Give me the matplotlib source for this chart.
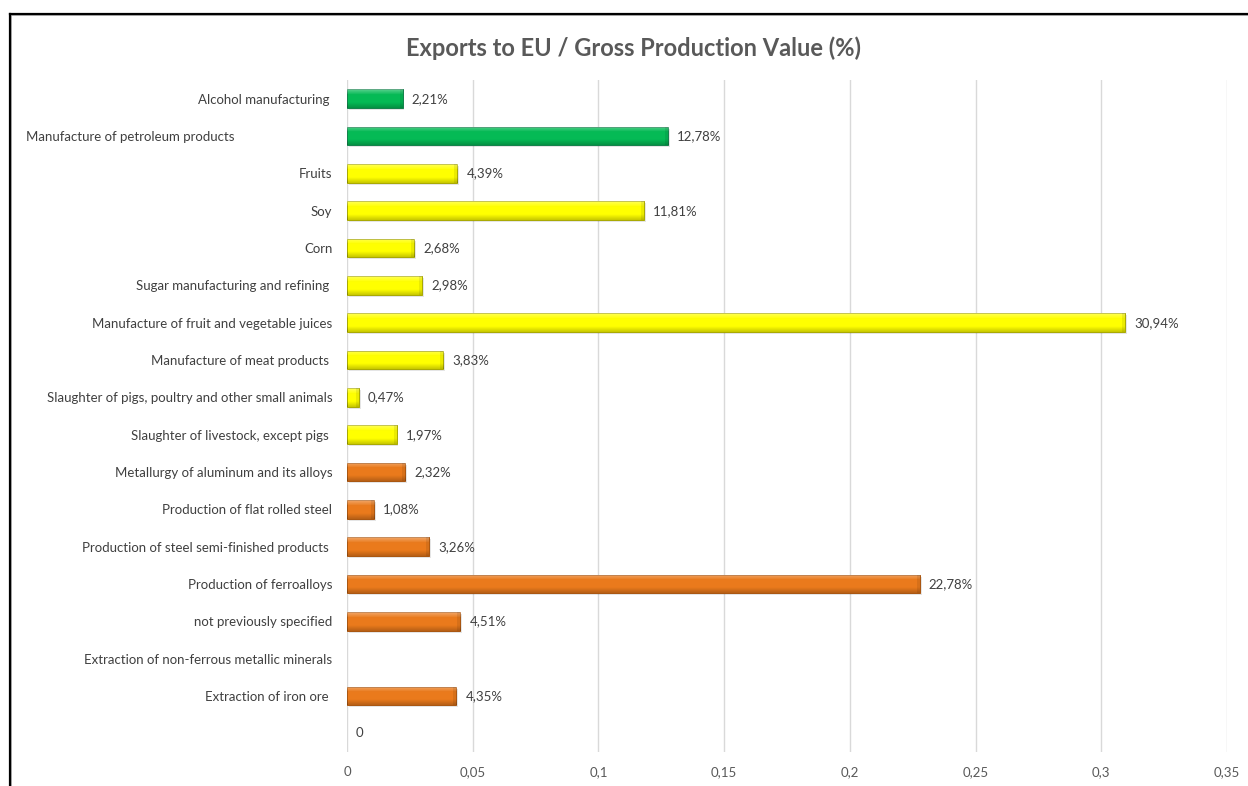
import numpy as np
import matplotlib
matplotlib.use("Agg")
import matplotlib.pyplot as plt
from matplotlib.lines import Line2D
from matplotlib.ticker import FuncFormatter

plt.rcParams['font.family'] = ['Lato', 'DejaVu Sans']

# categories from top to bottom (last row is an unnamed zero entry)
categories = [
    "Alcohol manufacturing ",
    "Manufacture of petroleum products" + " " * 29,
    "Fruits",
    "Soy",
    "Corn",
    "Sugar manufacturing and refining ",
    "Manufacture of fruit and vegetable juices",
    "Manufacture of meat products ",
    "Slaughter of pigs, poultry and other small animals",
    "Slaughter of livestock, except pigs ",
    "Metallurgy of aluminum and its alloys",
    "Production of flat rolled steel",
    "Production of steel semi-finished products ",
    "Production of ferroalloys",
    "not previously specified",
    "Extraction of non-ferrous metallic minerals",
    "Extraction of iron ore ",
    "",
]
values = [0.0221, 0.1278, 0.0439, 0.1181, 0.0268, 0.0298, 0.3094, 0.0383,
          0.0047, 0.0197, 0.0232, 0.0108, 0.0326, 0.2278, 0.0451, None,
          0.0435, 0.0]
groups = ["fuel", "fuel", "agro", "agro", "agro", "agro", "agro", "agro",
          "agro", "agro", "metal", "metal", "metal", "metal", "metal",
          "metal", "metal", "metal"]

colors = {"fuel": "#05BA55", "agro": "#FFFF00", "metal": "#EA7A1C"}
edges = {"fuel": "#12804A", "agro": "#A8A800", "metal": "#A9550F"}

fig = plt.figure(figsize=(12.48, 7.86), dpi=100)
ax = fig.add_axes([347 / 1248, 1 - 752 / 786, 880 / 1248, 672 / 786])

ypos = np.arange(len(categories))
h = 0.5

# shading overlay: light band on top, slightly darker toward the bottom
n = 64
t = np.linspace(0, 1, n)
shade = np.zeros((n, 1, 4))
top = t < 0.3
shade[top, 0, :3] = 1.0
shade[top, 0, 3] = 0.35 * (1 - t[top] / 0.3)
bot = t > 0.7
shade[bot, 0, 3] = 0.22 * (t[bot] - 0.7) / 0.3

for y, v, g in zip(ypos, values, groups):
    if not v:
        continue
    # soft drop shadow
    ax.barh(y + 0.05, v, height=h, left=0.0007, color="#000000", alpha=0.10,
            linewidth=0, zorder=2)
    bar = ax.barh(y, v, height=h, color=colors[g], edgecolor=edges[g],
                  linewidth=0.7, zorder=3)[0]
    im = ax.imshow(shade, extent=[0, v, y + h / 2, y - h / 2], aspect='auto',
                   interpolation='bilinear', zorder=4)
    im.set_clip_path(bar)
    # faint bevel at the bar end
    endw = min(0.0012, v * 0.3)
    ax.barh(y, endw, left=v - endw, height=h, color="#000000", alpha=0.08,
            linewidth=0, zorder=4)

for y, v in zip(ypos, values):
    if v is None:
        continue
    txt = "0" if v == 0 else f"{v * 100:.2f}%".replace(".", ",")
    ax.annotate(txt, (v, y), xytext=(6.5, 0), textcoords="offset points",
                va="center", ha="left", fontsize=9.5, color="#404040")

ax.set_xlim(0, 0.35)
ax.set_ylim(len(categories) - 0.5, -0.5)
ax.set_xticks(np.arange(0, 0.351, 0.05))
ax.xaxis.set_major_formatter(FuncFormatter(
    lambda x, _: f"{round(x, 2):g}".replace(".", ",")))
ax.set_yticks(ypos)
ax.set_yticklabels(categories)
ax.tick_params(axis="both", length=0, labelsize=9.5)
ax.tick_params(axis="y", pad=10.5, colors="#404040")
ax.tick_params(axis="x", pad=10, colors="#595959")
ax.grid(axis="x", color="#D9D9D9", linewidth=1)
ax.set_axisbelow(True)
for s in ax.spines.values():
    s.set_visible(False)

fig.text(634 / 1248, 1 - 48 / 786, "Exports to EU / Gross Production Value (%)",
         ha="center", va="center", fontsize=17, fontweight="bold",
         color="#595959")

# chart frame with a slight shadow
x0, y0 = 10 / 1248, 1 - 13.5 / 786
fig.add_artist(Line2D([x0 + 1.5 / 1248, x0 + 1.5 / 1248], [-0.1, y0 - 1.5 / 786],
                      color="#A6A6A6", linewidth=1.2))
fig.add_artist(Line2D([x0 + 1.5 / 1248, 1.1], [y0 - 1.5 / 786, y0 - 1.5 / 786],
                      color="#A6A6A6", linewidth=1.2))
fig.add_artist(Line2D([x0, x0], [-0.1, y0], color="black", linewidth=1.6))
fig.add_artist(Line2D([x0, 1.1], [y0, y0], color="black", linewidth=1.6))

fig.savefig("out.png", dpi=100, facecolor="white")
